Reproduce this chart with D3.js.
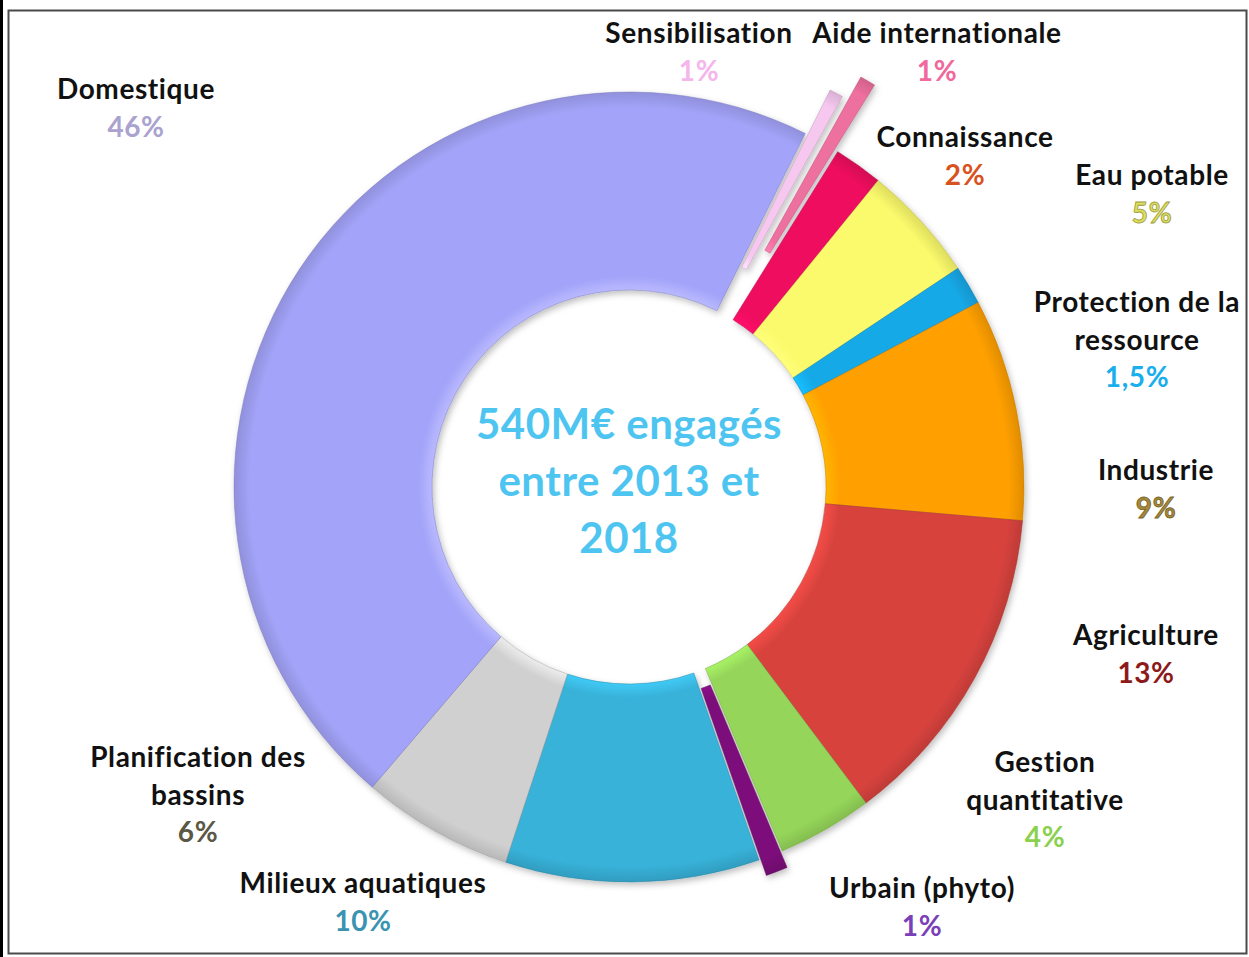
<!DOCTYPE html>
<html>
<head>
<meta charset="utf-8">
<script src="https://cdn.jsdelivr.net/npm/d3@7"></script>
<style>
  body { margin: 0; background: #fff; }
</style>
</head>
<body>
<script>
// slices, clockwise from the top-right (Sensibilisation first)
const categories = ["Sensibilisation", "Aide internationale", "Connaissance", "Eau potable",
  "Protection de la ressource", "Industrie", "Agriculture", "Gestion quantitative",
  "Urbain (phyto)", "Milieux aquatiques", "Planification des bassins", "Domestique"]
// shares (labels below are the printed, rounded values)
const shares = [0.7, 0.8, 2, 4.8, 1.6, 9.1, 13.4, 3.9, 1, 10.4, 6.2, 46.1]
const pctLabels = ["1%", "1%", "2%", "5%", "1,5%", "9%", "13%", "4%", "1%", "10%", "6%", "46%"]
const centerLines = ["540M€ engagés", "entre 2013 et", "2018"]

const sliceColors = ["#f6c8f0", "#ee6f9e", "#ee0a5e", "#fbfa6c", "#14a9e8", "#ffa000",
  "#d8433e", "#95d65a", "#7c0d7a", "#38b2d9", "#d0d0d0", "#a3a3f9"]
const pctColors = ["#f5b6ec", "#f0689c", "#d8521e", "#dede5e", "#1aaeec", "#a58a3a",
  "#8c1a1a", "#8bd04e", "#7a40b8", "#3a93b0", "#5b5846", "#aaa2cf"]

// label layout (name lines, anchor x, first baseline)
const labelLayout = {
  "Sensibilisation": {lines: ["Sensibilisation"], x: 699, y: 43},
  "Aide internationale": {lines: ["Aide internationale"], x: 937, y: 43},
  "Connaissance": {lines: ["Connaissance"], x: 965, y: 147},
  "Eau potable": {lines: ["Eau potable"], x: 1152, y: 185},
  "Protection de la ressource": {lines: ["Protection de la", "ressource"], x: 1137, y: 312},
  "Industrie": {lines: ["Industrie"], x: 1156, y: 480},
  "Agriculture": {lines: ["Agriculture"], x: 1146, y: 645},
  "Gestion quantitative": {lines: ["Gestion", "quantitative"], x: 1045, y: 772},
  "Urbain (phyto)": {lines: ["Urbain (phyto)"], x: 922, y: 898},
  "Milieux aquatiques": {lines: ["Milieux aquatiques"], x: 363, y: 893},
  "Planification des bassins": {lines: ["Planification des", "bassins"], x: 198, y: 767},
  "Domestique": {lines: ["Domestique"], x: 136, y: 99}
}
// exploded slices, pushed out by this many pixels, and slimmed a bit
const explode = {"Sensibilisation": 50, "Aide internationale": 76, "Urbain (phyto)": 17}
const thinPad = {"Sensibilisation": 0.008, "Aide internationale": 0.009, "Urbain (phyto)": 0.006}

const width = 1249, height = 957
const cx = 629, cy = 487
const outerR = 395, innerR = 197
const lineH = 37.5

const svg = d3.select("body").append("svg")
  .attr("width", width)
  .attr("height", height)

/* frame */
svg.append("rect").attr("x", 0).attr("y", 0).attr("width", 3).attr("height", height).attr("fill", "#000")
svg.append("rect")
  .attr("x", 8.5).attr("y", 10.5)
  .attr("width", 1238).attr("height", 943)
  .attr("fill", "#fff")
  .attr("stroke", "#4a4a4a")
  .attr("stroke-width", 2)

const data = categories.map((c, i) => ({name: c, value: shares[i], color: sliceColors[i],
  pct: pctLabels[i], pctColor: pctColors[i]}))

const startA = 26.5 * Math.PI / 180
const pie = d3.pie().sort(null).value(d => d.value)
  .startAngle(startA).endAngle(startA + 2 * Math.PI)
const arcs = pie(data)

const arc = d3.arc()
  .innerRadius(innerR)
  .outerRadius(outerR)
  .padAngle(d => thinPad[d.data.name] || 0)

const defs = svg.append("defs")
defs.append("filter").attr("id", "shadow")
  .attr("x", "-10%").attr("y", "-10%").attr("width", "120%").attr("height", "120%")
  .append("feDropShadow")
  .attr("dx", 2).attr("dy", 3).attr("stdDeviation", 3)
  .attr("flood-color", "#000").attr("flood-opacity", 0.25)

// soft bevel: lighter at inner rim, darker at outer rim
arcs.forEach((d, i) => {
  const c = d3.color(d.data.color)
  const g = defs.append("radialGradient")
    .attr("id", "grad" + i)
    .attr("gradientUnits", "userSpaceOnUse")
    .attr("cx", 0).attr("cy", 0).attr("r", outerR)
  g.append("stop").attr("offset", innerR / outerR).attr("stop-color", c.brighter(0.35))
  g.append("stop").attr("offset", (innerR + 14) / outerR).attr("stop-color", c)
  g.append("stop").attr("offset", 0.96).attr("stop-color", c)
  g.append("stop").attr("offset", 1).attr("stop-color", c.darker(0.35))
})

const ring = svg.append("g")
  .attr("transform", `translate(${cx},${cy})`)
  .attr("filter", "url(#shadow)")

ring.selectAll("path")
  .data(arcs)
  .enter().append("path")
  .attr("transform", d => {
    const off = explode[d.data.name] || 0
    const mid = (d.startAngle + d.endAngle) / 2
    return `translate(${off * Math.sin(mid)},${-off * Math.cos(mid)})`
  })
  .attr("d", arc)
  .attr("fill", (d, i) => `url(#grad${i})`)
  .attr("stroke", d => d3.color(d.data.color).darker(0.8))
  .attr("stroke-width", 0.8)
  .attr("stroke-opacity", 0.6)

/* labels */
const labels = svg.append("g")
  .attr("font-family", "Lato, 'Open Sans', sans-serif")
  .attr("font-weight", "bold")
  .attr("font-size", 28)
  .attr("letter-spacing", 0.6)
  .attr("text-anchor", "middle")

data.forEach(d => {
  const lay = labelLayout[d.name]
  lay.lines.forEach((ln, k) => {
    labels.append("text")
      .attr("x", lay.x)
      .attr("y", lay.y + k * lineH)
      .attr("fill", "#111")
      .text(ln)
  })
  const outlined = d.name === "Eau potable" || d.name === "Industrie"
  labels.append("text")
    .attr("x", lay.x)
    .attr("y", lay.y + lay.lines.length * lineH)
    .attr("fill", d.pctColor)
    .attr("stroke", outlined ? d3.color(d.pctColor).darker(1) : "none")
    .attr("stroke-width", outlined ? 0.8 : 0)
    .text(d.pct)
})

/* centre text */
svg.append("g")
  .attr("font-family", "Lato, 'Open Sans', sans-serif")
  .attr("font-weight", "bold")
  .attr("font-size", 42)
  .attr("letter-spacing", 0.5)
  .attr("text-anchor", "middle")
  .attr("fill", "#4ec5f1")
  .selectAll("text")
  .data(centerLines)
  .enter().append("text")
  .attr("x", cx)
  .attr("y", (d, i) => 439 + i * 57)
  .text(d => d)
</script>
</body>
</html>
